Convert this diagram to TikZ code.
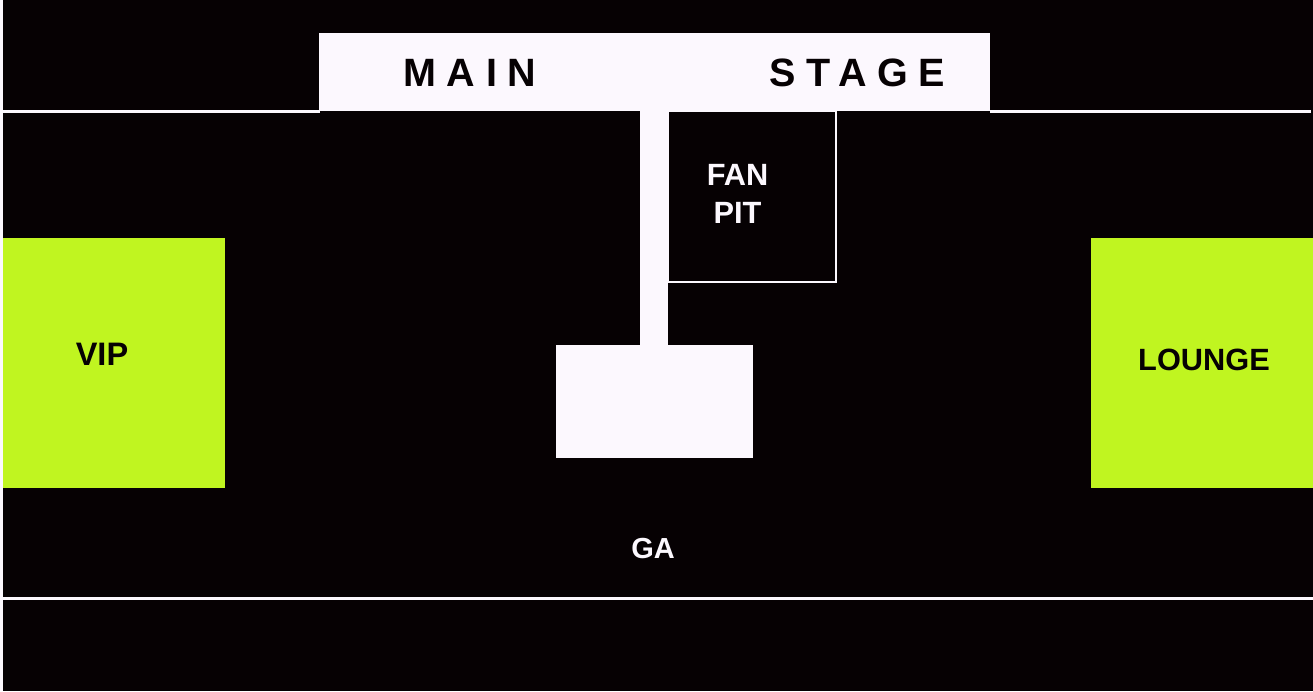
\documentclass[tikz,border=0pt]{standalone}
\usepackage{fontspec}
\setmainfont{Liberation Sans}
\usetikzlibrary{positioning}
\definecolor{venueBlack}{RGB}{6,1,3}
\definecolor{stageWhite}{RGB}{252,248,254}
\definecolor{zoneLime}{RGB}{192,245,32}
\tikzset{
  barrier/.style={stageWhite, line width=1.7pt},
  zonefill/.style={fill=zoneLime},
  darklbl/.style={inner sep=0pt, text=venueBlack, font=\bfseries\fontsize{18.5}{22}\selectfont},
  lightlbl/.style={inner sep=0pt, text=stageWhite, font=\bfseries\fontsize{17.5}{22}\selectfont, align=center},
  stagelbl/.style={inner sep=0pt, anchor=west, text=venueBlack,
    font=\bfseries\fontsize{22.5}{26}\selectfont\addfontfeature{LetterSpace=27}},
}
\begin{document}
\begin{tikzpicture}[x=0.02cm, y=-0.02cm]
  \useasboundingbox (0,0) rectangle (1313,691);
  \fill[stageWhite] (0,0) rectangle (1313,691);
  \fill[venueBlack] (3,0) rectangle (1313,691);
  % barrier lines
  \draw[barrier] (0,111) -- (320,111);
  \draw[barrier] (990,111) -- (1311,111);
  \draw[barrier] (3,598.5) -- (1313,598.5);
  % fan pit outline (stage and runway cover its top and left)
  \draw[stageWhite, line width=1.1pt] (668,111) rectangle (836,282);
  % stage, runway and thrust
  \fill[stageWhite] (319,33) rectangle (990,111);
  \fill[stageWhite] (640,110) rectangle (668,346);
  \fill[stageWhite] (556,345) rectangle (753,458);
  % side zones
  \fill[zonefill] (3,238) rectangle (225,488);
  \fill[zonefill] (1091,238) rectangle (1313,488);
  % labels
  \node[stagelbl] (main) at (403,73) {MAIN};
  \node[stagelbl] (stage) at (769,73) {STAGE};
  \node[lightlbl] (fanpit) at (737.5,194) {FAN\\PIT};
  \node[darklbl] (vip) at (102,354) {VIP};
  \node[darklbl, font=\bfseries\fontsize{17.5}{22}\selectfont] (lounge) at (1204,360) {LOUNGE};
  \node[lightlbl, font=\bfseries\fontsize{16.5}{20}\selectfont] (ga) at (653,548.5) {GA};
\end{tikzpicture}
\end{document}
